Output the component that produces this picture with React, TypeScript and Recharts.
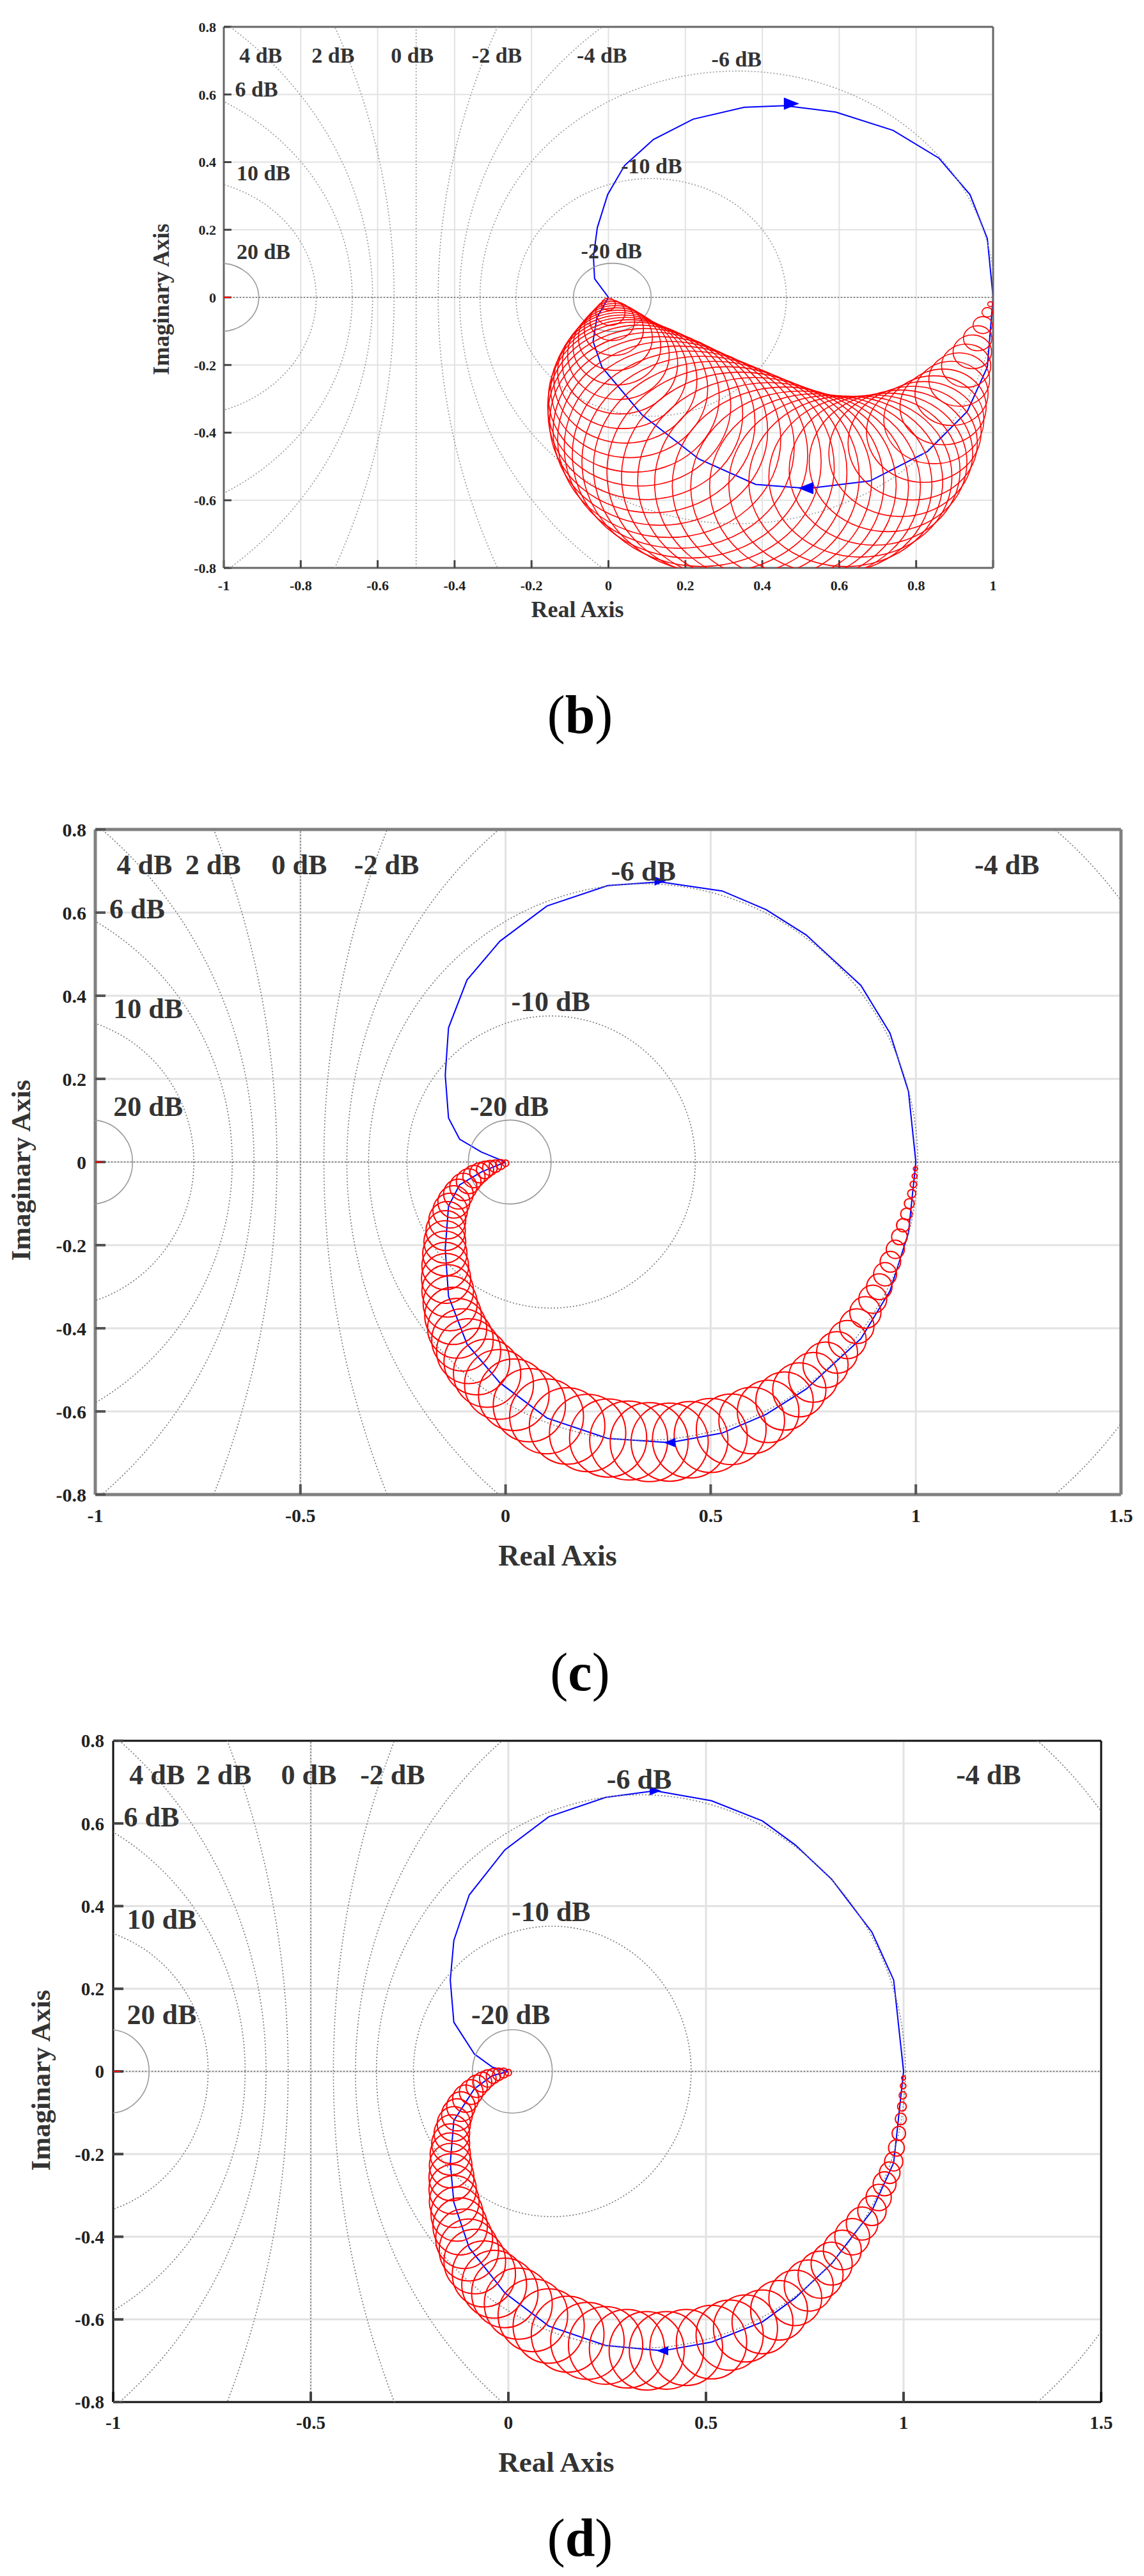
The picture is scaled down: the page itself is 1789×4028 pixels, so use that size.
import React from 'react';
import { ComposedChart, Line, Scatter, XAxis, YAxis, CartesianGrid, ReferenceLine } from 'recharts';

const PAGE_W = 1789;

// closed-loop magnitude contours of the Nyquist grid (dB)
const gridDb = [-20, -10, -6, -4, -2, 2, 4, 6, 10, 20];

const yTicks = [-0.8, -0.6, -0.4, -0.2, 0, 0.2, 0.4, 0.6, 0.8];
const bXTicks = [-1, -0.8, -0.6, -0.4, -0.2, 0, 0.2, 0.4, 0.6, 0.8, 1];
const cdXTicks = [-1, -0.5, 0, 0.5, 1, 1.5];

const dbLabels = ['4 dB', '2 dB', '0 dB', '-2 dB', '-4 dB', '-6 dB', '6 dB', '10 dB', '20 dB', '-10 dB', '-20 dB'];

// ---- (b) ----
const bLabelRe = [-0.904, -0.716, -0.51, -0.29, -0.017, 0.333, -0.915, -0.897, -0.897, 0.112, 0.008];
const bLabelIm = [0.717, 0.717, 0.717, 0.717, 0.717, 0.706, 0.616, 0.369, 0.136, 0.389, 0.138];
const bUpperRe = [0, -0.036, -0.039, -0.029, -0.002, 0.042, 0.117, 0.22, 0.353, 0.458, 0.591, 0.74, 0.859, 0.94, 0.985, 1.0];
const bUpperIm = [0, 0.055, 0.12, 0.206, 0.304, 0.39, 0.467, 0.527, 0.562, 0.567, 0.548, 0.494, 0.412, 0.304, 0.174, 0];
const bLowerRe = [0, -0.03, -0.04, -0.017, 0.087, 0.235, 0.383, 0.518, 0.68, 0.829, 0.933, 0.985, 1.0];
const bLowerIm = [0, -0.06, -0.13, -0.206, -0.347, -0.478, -0.553, -0.565, -0.543, -0.456, -0.337, -0.206, 0];
// uncertainty discs: [re, im, radius]
const bDiscs: [number, number, number][] = [
  [0.0, -0.02, 0.018], [0.005, -0.045, 0.038], [0.01, -0.07, 0.058], [0.014, -0.095, 0.077], [0.018, -0.12, 0.096],
  [0.022, -0.145, 0.114], [0.026, -0.17, 0.132], [0.03, -0.195, 0.15], [0.036, -0.22, 0.168], [0.044, -0.245, 0.186],
  [0.054, -0.27, 0.204], [0.066, -0.295, 0.222], [0.08, -0.32, 0.238], [0.096, -0.345, 0.253], [0.114, -0.37, 0.267],
  [0.135, -0.395, 0.279], [0.158, -0.42, 0.29], [0.184, -0.443, 0.299], [0.212, -0.465, 0.306], [0.242, -0.485, 0.311],
  [0.274, -0.502, 0.313], [0.308, -0.517, 0.312], [0.343, -0.53, 0.309], [0.38, -0.541, 0.304], [0.418, -0.55, 0.298],
  [0.457, -0.556, 0.291], [0.497, -0.56, 0.283], [0.537, -0.559, 0.274], [0.577, -0.554, 0.264], [0.617, -0.544, 0.252],
  [0.655, -0.53, 0.238], [0.692, -0.511, 0.222], [0.727, -0.488, 0.205], [0.76, -0.461, 0.187], [0.791, -0.431, 0.168],
  [0.82, -0.398, 0.149], [0.846, -0.362, 0.13], [0.87, -0.324, 0.112], [0.892, -0.284, 0.095], [0.912, -0.243, 0.079],
  [0.93, -0.202, 0.064], [0.946, -0.161, 0.05], [0.96, -0.121, 0.037], [0.973, -0.082, 0.025], [0.985, -0.044, 0.014],
  [0.993, -0.02, 0.007],
];
const bArrowRe = [0.476, 0.513];
const bArrowIm = [0.573, -0.564];

// ---- (c) ----
const cLabelRe = [-0.88, -0.713, -0.503, -0.29, 1.222, 0.336, -0.898, -0.871, -0.871, 0.11, 0.009];
const cLabelIm = [0.716, 0.716, 0.716, 0.716, 0.716, 0.7, 0.61, 0.37, 0.135, 0.387, 0.135];
const cUpperRe = [0, -0.059, -0.112, -0.139, -0.147, -0.139, -0.094, -0.014, 0.101, 0.249, 0.377, 0.528, 0.635, 0.733, 0.866, 0.937, 0.982, 1.0];
const cUpperIm = [0, 0.024, 0.055, 0.106, 0.209, 0.323, 0.438, 0.531, 0.616, 0.665, 0.674, 0.652, 0.607, 0.546, 0.425, 0.31, 0.17, 0];
const cLowerRe = [0, -0.059, -0.112, -0.139, -0.147, -0.139, -0.094, -0.014, 0.101, 0.249, 0.4, 0.528, 0.635, 0.733, 0.866, 0.937, 0.982, 1.0];
const cLowerIm = [0, -0.024, -0.055, -0.106, -0.209, -0.323, -0.438, -0.531, -0.616, -0.665, -0.675, -0.652, -0.607, -0.546, -0.425, -0.31, -0.17, 0];
const cDiscs: [number, number, number][] = [
  [0.0, -0.003, 0.008], [-0.012, -0.006, 0.012], [-0.025, -0.01, 0.015], [-0.038, -0.014, 0.018], [-0.05, -0.019, 0.021],
  [-0.063, -0.026, 0.024], [-0.077, -0.035, 0.027], [-0.09, -0.046, 0.03], [-0.103, -0.06, 0.033], [-0.115, -0.077, 0.036],
  [-0.126, -0.096, 0.039], [-0.135, -0.117, 0.042], [-0.142, -0.14, 0.045], [-0.146, -0.165, 0.048], [-0.148, -0.192, 0.051],
  [-0.148, -0.22, 0.054], [-0.147, -0.25, 0.057], [-0.145, -0.28, 0.06], [-0.141, -0.31, 0.063], [-0.135, -0.34, 0.066],
  [-0.128, -0.37, 0.069], [-0.118, -0.4, 0.072], [-0.105, -0.428, 0.075], [-0.09, -0.455, 0.078], [-0.07, -0.48, 0.08],
  [-0.045, -0.508, 0.082], [-0.016, -0.535, 0.084], [0.02, -0.56, 0.086], [0.058, -0.585, 0.088], [0.1, -0.612, 0.09],
  [0.15, -0.635, 0.092], [0.2, -0.652, 0.093], [0.25, -0.664, 0.094], [0.3, -0.67, 0.095], [0.35, -0.674, 0.095],
  [0.4, -0.674, 0.094], [0.45, -0.668, 0.092], [0.5, -0.658, 0.089], [0.55, -0.643, 0.085], [0.6, -0.622, 0.08],
  [0.64, -0.6, 0.075], [0.68, -0.575, 0.07], [0.716, -0.548, 0.065], [0.75, -0.518, 0.06], [0.78, -0.488, 0.055],
  [0.808, -0.458, 0.05], [0.833, -0.427, 0.046], [0.856, -0.395, 0.042], [0.877, -0.362, 0.038], [0.895, -0.33, 0.034],
  [0.911, -0.3, 0.031], [0.925, -0.27, 0.028], [0.938, -0.24, 0.025], [0.95, -0.21, 0.022], [0.96, -0.18, 0.019],
  [0.969, -0.152, 0.016], [0.977, -0.125, 0.014], [0.984, -0.1, 0.012], [0.99, -0.076, 0.01], [0.994, -0.054, 0.008],
  [0.997, -0.034, 0.006], [0.999, -0.016, 0.005],
];
const cArrowRe = [0.377, 0.4];
const cArrowIm = [0.676, -0.675];

// ---- (d) ----
const dLabelRe = [-0.889, -0.72, -0.505, -0.293, 1.215, 0.331, -0.903, -0.877, -0.877, 0.108, 0.006];
const dLabelIm = [0.719, 0.719, 0.719, 0.719, 0.719, 0.708, 0.616, 0.369, 0.138, 0.388, 0.138];
const dUpperRe = [0, -0.04, -0.086, -0.138, -0.147, -0.138, -0.099, -0.009, 0.102, 0.246, 0.372, 0.514, 0.643, 0.726, 0.818, 0.92, 0.975, 1.0];
const dUpperIm = [0, 0.01, 0.042, 0.119, 0.221, 0.317, 0.427, 0.536, 0.616, 0.663, 0.679, 0.655, 0.606, 0.548, 0.465, 0.337, 0.221, 0];
const dLowerRe = [0, -0.04, -0.086, -0.138, -0.147, -0.138, -0.099, -0.009, 0.102, 0.246, 0.39, 0.514, 0.643, 0.726, 0.818, 0.92, 0.975, 1.0];
const dLowerIm = [0, -0.01, -0.042, -0.119, -0.221, -0.317, -0.427, -0.536, -0.616, -0.663, -0.676, -0.655, -0.606, -0.548, -0.465, -0.337, -0.221, 0];
const dDiscs: [number, number, number][] = [
  [0.0, -0.003, 0.008], [-0.012, -0.004, 0.012], [-0.025, -0.007, 0.015], [-0.038, -0.011, 0.018], [-0.052, -0.017, 0.021],
  [-0.066, -0.026, 0.024], [-0.08, -0.036, 0.027], [-0.094, -0.05, 0.03], [-0.108, -0.066, 0.033], [-0.12, -0.085, 0.036],
  [-0.13, -0.105, 0.039], [-0.138, -0.127, 0.042], [-0.143, -0.15, 0.045], [-0.146, -0.175, 0.048], [-0.147, -0.2, 0.051],
  [-0.146, -0.228, 0.054], [-0.144, -0.256, 0.057], [-0.141, -0.285, 0.06], [-0.137, -0.315, 0.063], [-0.13, -0.345, 0.066],
  [-0.122, -0.375, 0.069], [-0.112, -0.405, 0.072], [-0.1, -0.432, 0.075], [-0.085, -0.46, 0.078], [-0.062, -0.49, 0.08],
  [-0.036, -0.515, 0.082], [-0.009, -0.536, 0.084], [0.025, -0.562, 0.086], [0.062, -0.59, 0.088], [0.102, -0.616, 0.09],
  [0.15, -0.636, 0.092], [0.2, -0.652, 0.093], [0.246, -0.663, 0.094], [0.3, -0.671, 0.095], [0.35, -0.676, 0.095],
  [0.4, -0.675, 0.094], [0.45, -0.668, 0.092], [0.514, -0.655, 0.089], [0.56, -0.638, 0.085], [0.6, -0.622, 0.081],
  [0.643, -0.606, 0.077], [0.685, -0.578, 0.072], [0.726, -0.548, 0.067], [0.76, -0.518, 0.062], [0.79, -0.492, 0.057],
  [0.818, -0.465, 0.052], [0.845, -0.432, 0.048], [0.87, -0.4, 0.044], [0.895, -0.368, 0.04], [0.92, -0.337, 0.036],
  [0.937, -0.305, 0.032], [0.952, -0.272, 0.029], [0.965, -0.245, 0.026], [0.975, -0.218, 0.023], [0.982, -0.185, 0.02],
  [0.988, -0.15, 0.017], [0.993, -0.115, 0.014], [0.996, -0.085, 0.011], [0.998, -0.058, 0.009], [0.999, -0.035, 0.007],
  [1.0, -0.016, 0.005],
];
const dArrowRe = [0.372, 0.39];
const dArrowIm = [0.679, -0.676];

const arrowDir = [1, -1];

type Pt = { x: number; y: number };
const zip = (re: number[], im: number[]): Pt[] => re.map((x, i) => ({ x, y: im[i] }));
const discs = (list: [number, number, number][]) => list.map(([x, y, r]) => ({ x, y, r }));
const labels = (re: number[], im: number[]) => re.map((x, i) => ({ x, y: im[i], t: dbLabels[i] }));
const arrows = (re: number[], im: number[]) => re.map((x, i) => ({ x, y: im[i], d: arrowDir[i] }));

// M-circles: centre -M^2/(M^2-1), radius |M/(M^2-1)|
const mCircles = gridDb.map((db) => {
  const m = Math.pow(10, db / 20);
  const m2 = m * m;
  return { x: -m2 / (m2 - 1), y: 0, r: Math.abs(m / (m2 - 1)), solid: Math.abs(db) === 20 };
});

const SERIF = '"Liberation Serif", "Times New Roman", serif';

interface PanelCfg {
  top: number; height: number;
  left: number; right: number; plotTop: number; plotBottom: number;
  xMax: number; xTicks: number[];
  tickFont: number; dbFont: number;
  tickLen: number; tickMarginX: number; tickMarginY: number;
  box: string; boxW: number; tickColor: string; tickW: number;
  gridW: number; redW: number; arrowSize: number; dotColor: string;
  upper: Pt[]; lower: Pt[];
  rings: { x: number; y: number; r: number }[];
  labs: { x: number; y: number; t: string }[];
  arr: { x: number; y: number; d: number }[];
}

const panels: PanelCfg[] = [
  {
    top: 0, height: 1000, left: 350, right: 1553, plotTop: 42, plotBottom: 888,
    xMax: 1, xTicks: bXTicks, tickFont: 22, dbFont: 34,
    tickLen: 12, tickMarginX: 31, tickMarginY: 24,
    box: '#666', boxW: 3, tickColor: '#444', tickW: 3, gridW: 2, redW: 1.6, arrowSize: 12, dotColor: '#999',
    upper: zip(bUpperRe, bUpperIm), lower: zip(bLowerRe, bLowerIm),
    rings: discs(bDiscs), labs: labels(bLabelRe, bLabelIm), arr: arrows(bArrowRe, bArrowIm),
  },
  {
    top: 1200, height: 1300, left: 149, right: 1753, plotTop: 1297, plotBottom: 2337,
    xMax: 1.5, xTicks: cdXTicks, tickFont: 30, dbFont: 44,
    tickLen: 16, tickMarginX: 38, tickMarginY: 30,
    box: '#808080', boxW: 5, tickColor: '#555', tickW: 4, gridW: 3, redW: 2, arrowSize: 9, dotColor: '#777',
    upper: zip(cUpperRe, cUpperIm), lower: zip(cLowerRe, cLowerIm),
    rings: discs(cDiscs), labs: labels(cLabelRe, cLabelIm), arr: arrows(cArrowRe, cArrowIm),
  },
  {
    top: 2650, height: 1250, left: 177, right: 1722, plotTop: 2722, plotBottom: 3756,
    xMax: 1.5, xTicks: cdXTicks, tickFont: 29, dbFont: 44,
    tickLen: 16, tickMarginX: 37, tickMarginY: 30,
    box: '#111', boxW: 3, tickColor: '#444', tickW: 4, gridW: 3, redW: 2, arrowSize: 9, dotColor: '#777',
    upper: zip(dUpperRe, dUpperIm), lower: zip(dLowerRe, dLowerIm),
    rings: discs(dDiscs), labs: labels(dLabelRe, dLabelIm), arr: arrows(dArrowRe, dArrowIm),
  },
];

const YW = 100;
const XH = 80;

function NyquistPanel({ p }: { p: PanelCfg }) {
  const margin = {
    top: p.plotTop - p.top,
    left: p.left - YW,
    right: PAGE_W - p.right,
    bottom: p.top + p.height - p.plotBottom - XH,
  };
  const kx = (p.right - p.left) / (p.xMax + 1);
  const ky = (p.plotBottom - p.plotTop) / 1.6;
  const tickStyle = { fontSize: p.tickFont, fontWeight: 700, fill: '#222', fontFamily: SERIF };

  const ring = (props: any) => (
    <ellipse cx={props.cx} cy={props.cy} rx={props.payload.r * kx} ry={props.payload.r * ky}
      fill="none" stroke="#ff0000" strokeWidth={p.redW} />
  );
  const gridShape = (props: any) => (
    <ellipse cx={props.cx} cy={props.cy} rx={props.payload.r * kx} ry={props.payload.r * ky}
      fill="none" stroke={props.payload.solid ? '#999' : p.dotColor} strokeWidth={1.6}
      strokeDasharray={props.payload.solid ? undefined : '2 3'} />
  );
  const textShape = (props: any) => (
    <text x={props.cx} y={props.cy} dy="0.35em" textAnchor="middle" fontFamily={SERIF}
      fontWeight={700} fontSize={p.dbFont} fill="#333">{props.payload.t}</text>
  );
  const arrowShape = (props: any) => {
    const s = p.arrowSize;
    const d = props.payload.d;
    const { cx, cy } = props;
    return <polygon points={`${cx + d * s},${cy} ${cx - d * s},${cy - s * 0.8} ${cx - d * s},${cy + s * 0.8}`} fill="#0000ff" />;
  };
  const crossShape = (props: any) => (
    <line x1={props.cx - 11} y1={props.cy} x2={props.cx + 11} y2={props.cy} stroke="#ff0000" strokeWidth={2} />
  );

  const axisLine = { stroke: p.box, strokeWidth: p.boxW };
  const tickLine = { stroke: p.tickColor, strokeWidth: p.tickW };

  return (
    <div style={{ position: 'absolute', left: 0, top: p.top }}>
      <ComposedChart width={PAGE_W} height={p.height} margin={margin}>
        <CartesianGrid stroke="#e2e2e2" strokeWidth={p.gridW} />
        <XAxis type="number" dataKey="x" domain={[-1, p.xMax]} ticks={p.xTicks} allowDataOverflow interval={0}
          height={XH} tickSize={-p.tickLen} tickMargin={p.tickMarginX} axisLine={axisLine} tickLine={tickLine} tick={tickStyle} />
        <XAxis xAxisId="top" orientation="top" mirror type="number" dataKey="x" domain={[-1, p.xMax]} ticks={p.xTicks}
          allowDataOverflow interval={0} tickSize={p.tickLen} axisLine={axisLine} tickLine={tickLine} tick={false} />
        <YAxis type="number" dataKey="y" domain={[-0.8, 0.8]} ticks={yTicks} allowDataOverflow interval={0}
          width={YW} tickSize={-p.tickLen} tickMargin={p.tickMarginY} axisLine={axisLine} tickLine={tickLine} tick={tickStyle} />
        <YAxis yAxisId="right" orientation="right" mirror type="number" dataKey="y" domain={[-0.8, 0.8]} ticks={yTicks}
          allowDataOverflow interval={0} tickSize={p.tickLen} axisLine={axisLine} tickLine={tickLine} tick={false} />

        <Scatter data={mCircles} shape={gridShape} isAnimationActive={false} />
        <ReferenceLine x={-0.5} stroke={p.dotColor} strokeWidth={1.6} strokeDasharray="2 3" />
        <ReferenceLine y={0} stroke="#666" strokeWidth={1.6} strokeDasharray="2 3" />

        <Scatter data={p.rings} shape={ring} isAnimationActive={false} />
        <Line data={p.upper} dataKey="y" type="linear" stroke="#0000ff" strokeWidth={2} dot={false} isAnimationActive={false} />
        <Line data={p.lower} dataKey="y" type="linear" stroke="#0000ff" strokeWidth={2} dot={false} isAnimationActive={false} />
        <Scatter data={p.arr} shape={arrowShape} isAnimationActive={false} />
        <Scatter data={[{ x: -1, y: 0 }]} shape={crossShape} isAnimationActive={false} />
        <Scatter data={p.labs} shape={textShape} isAnimationActive={false} />
      </ComposedChart>
    </div>
  );
}

const titles = [
  { t: 'Real Axis', x: 903, y: 953, size: 36, rot: false },
  { t: 'Imaginary Axis', x: 252, y: 468, size: 36, rot: true },
  { t: 'Real Axis', x: 872, y: 2433, size: 46, rot: false },
  { t: 'Imaginary Axis', x: 32, y: 1830, size: 43, rot: true },
  { t: 'Real Axis', x: 870, y: 3850, size: 45, rot: false },
  { t: 'Imaginary Axis', x: 63, y: 3253, size: 43, rot: true },
];
const captions = [
  { t: 'b', y: 1118 },
  { t: 'c', y: 2615 },
  { t: 'd', y: 3969 },
];

export default function App() {
  return (
    <div style={{ position: 'relative', width: PAGE_W, height: 4028, background: '#fff', overflow: 'hidden' }}>
      <style>{'body{margin:0;background:#fff}'}</style>
      {panels.map((p, i) => <NyquistPanel key={i} p={p} />)}
      {titles.map((t, i) => (
        <div key={'t' + i} style={{
          position: 'absolute', left: t.x, top: t.y, whiteSpace: 'nowrap',
          transform: `translate(-50%, -50%)${t.rot ? ' rotate(-90deg)' : ''}`,
          fontFamily: SERIF, fontWeight: 700, fontSize: t.size, color: '#333', lineHeight: 1,
        }}>{t.t}</div>
      ))}
      {captions.map((c, i) => (
        <div key={'c' + i} style={{
          position: 'absolute', left: 907, top: c.y, transform: 'translate(-50%, -50%)',
          fontFamily: SERIF, fontSize: 84, color: '#000', lineHeight: 1, whiteSpace: 'nowrap',
        }}>(<b>{c.t}</b>)</div>
      ))}
    </div>
  );
}
